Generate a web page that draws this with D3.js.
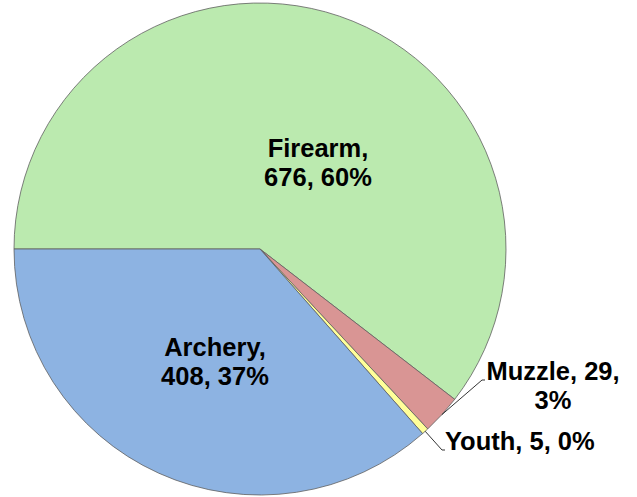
<!DOCTYPE html>
<html><head><meta charset="utf-8">
<script src="https://cdn.jsdelivr.net/npm/d3@7/dist/d3.min.js"></script>
<style>
html,body{margin:0;padding:0;background:#fff;}
text{font-family:"Liberation Sans",Arial,sans-serif;font-weight:bold;fill:#000;}
</style></head>
<body>
<svg id="chart" width="637" height="497"></svg>
<script>
const categories = ["Firearm", "Muzzle", "Youth", "Archery"];
const values = [676, 29, 5, 408];
const percents = ["60%", "3%", "0%", "37%"];
const colors = ["#BBEAAF", "#D99594", "#FFFF99", "#8DB3E2"];

const W = 637, H = 497;
const cx = 260, cy = 249, R = 246;
const svg = d3.select("#chart");
const g = svg.append("g").attr("transform", `translate(${cx},${cy})`);

const data = categories.map((c, i) => ({cat: c, value: values[i], pct: percents[i], color: colors[i]}));
const startA = 1.5 * Math.PI; // first slice starts at 9 o'clock
const pie = d3.pie().value(d => d.value).sort(null)
  .startAngle(startA).endAngle(startA + 2 * Math.PI);
const arcs = pie(data);
const arc = d3.arc().innerRadius(0).outerRadius(R);

g.selectAll("path.slice").data(arcs).enter().append("path")
  .attr("class", "slice")
  .attr("d", arc)
  .attr("fill", d => d.data.color)
  .attr("stroke", "#5f5f5f")
  .attr("stroke-width", 0.8)
  .attr("stroke-linejoin", "round");

// label layout (line positions, relative to chart)
const labelLayout = {
  Firearm: {lines: d => [d.cat + ",", d.value + ", " + d.pct], x: 318, y: 157, anchor: "middle"},
  Archery: {lines: d => [d.cat + ",", d.value + ", " + d.pct], x: 215, y: 356, anchor: "middle"},
  Muzzle:  {lines: d => [d.cat + ", " + d.value + ",", d.pct], x: 553, y: 380, anchor: "middle", leader: [482, 380, 485]},
  Youth:   {lines: d => [d.cat + ", " + d.value + ", " + d.pct], x: 445, y: 450, anchor: "start", leader: [442, 450, 445]}
};
const lineH = 28.5;

arcs.forEach(a => {
  const L = labelLayout[a.data.cat];
  if (L.leader) {
    const mid = (a.startAngle + a.endAngle) / 2;
    const px = cx + R * Math.sin(mid), py = cy - R * Math.cos(mid);
    svg.append("polyline")
      .attr("points", `${px},${py} ${L.leader[0]},${L.leader[1]} ${L.leader[2]},${L.leader[1]}`)
      .attr("fill", "none").attr("stroke", "#000").attr("stroke-width", 0.8);
  }
  const t = svg.append("text")
    .attr("text-anchor", L.anchor)
    .attr("font-size", 25.5);
  L.lines(a.data).forEach((s, i) => {
    t.append("tspan").attr("x", L.x).attr("y", L.y + i * lineH).text(s);
  });
});
</script>
</body></html>
